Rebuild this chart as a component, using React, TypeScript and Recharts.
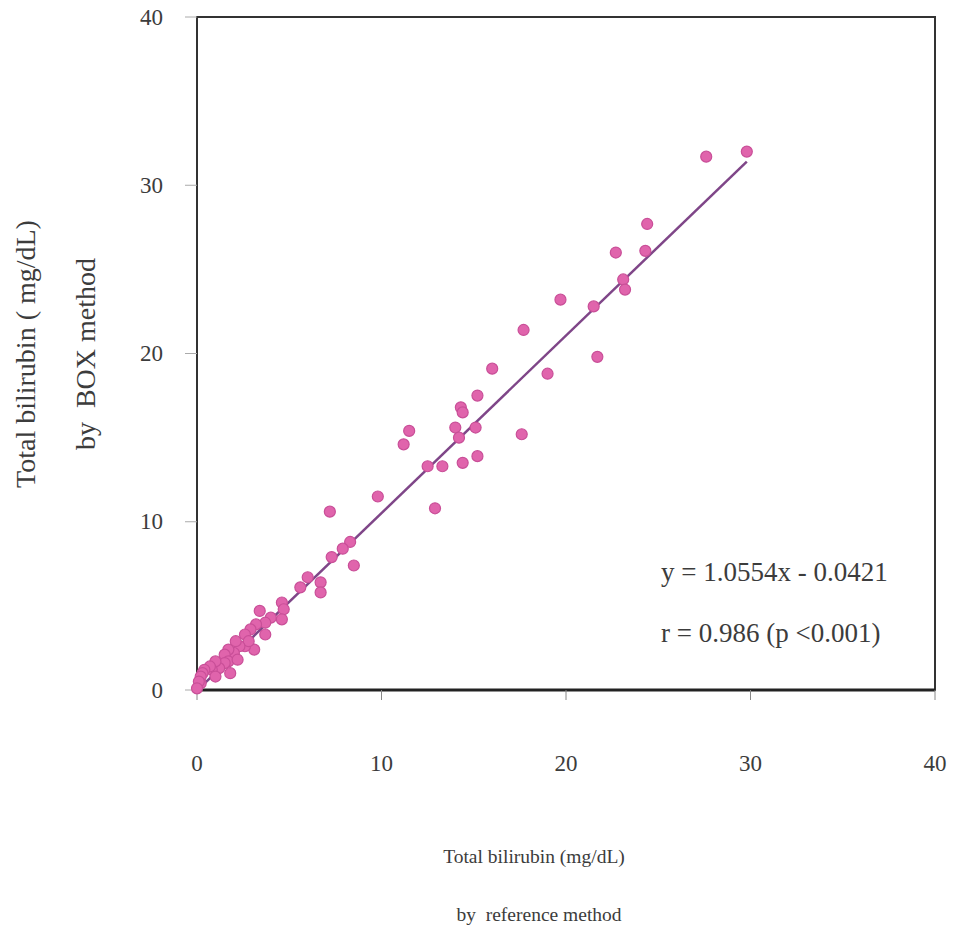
import { ScatterChart, Scatter, XAxis, YAxis, ReferenceLine, ReferenceArea } from 'recharts'

// total bilirubin (mg/dL), reference method vs BOX method
const referenceMethod = [
  29.8, 27.6, 24.4, 24.3, 22.7, 23.1, 23.2, 19.7, 21.5, 17.7, 21.7, 19.0, 17.6, 16.0, 15.2, 14.3, 14.4, 14.0, 15.1, 14.2,
  11.5, 11.2, 12.5, 13.3, 14.4, 15.2, 9.8, 7.2, 12.9, 8.3, 7.9, 7.3, 8.5, 6.0, 6.7, 6.7, 5.6,
  4.6, 4.7, 4.6, 3.4, 4.0, 3.7, 3.2, 2.9, 3.7, 2.6, 3.1, 2.6, 2.8, 2.3, 2.1, 2.0, 1.7, 1.5, 1.7, 1.5, 1.2, 1.0,
  0.8, 0.7, 0.4, 0.3, 1.0, 1.8, 0.2, 0.2, 0.1, 0.0, 2.2,
]
const boxMethod = [
  32.0, 31.7, 27.7, 26.1, 26.0, 24.4, 23.8, 23.2, 22.8, 21.4, 19.8, 18.8, 15.2, 19.1, 17.5, 16.8, 16.5, 15.6, 15.6, 15.0,
  15.4, 14.6, 13.3, 13.3, 13.5, 13.9, 11.5, 10.6, 10.8, 8.8, 8.4, 7.9, 7.4, 6.7, 6.4, 5.8, 6.1,
  5.2, 4.8, 4.2, 4.7, 4.3, 4.0, 3.9, 3.6, 3.3, 3.3, 2.4, 2.6, 2.9, 2.6, 2.9, 2.2, 2.4, 2.1, 1.7, 1.6, 1.3, 1.7,
  1.2, 1.4, 1.2, 1.0, 0.8, 1.0, 0.8, 0.4, 0.5, 0.1, 1.8,
]
const axisTicks = [0, 10, 20, 30, 40]
const slope = 1.0554
const intercept = -0.0421
const equationText = 'y = 1.0554x - 0.0421'
const corrText = 'r = 0.986 (p <0.001)'

const points = referenceMethod.map((x, i) => ({ x, y: boxMethod[i] }))
const xMax = Math.max(...referenceMethod)

const font = '"Liberation Serif", "Times New Roman", serif'
const textColor = '#3c3c3c'

const Dot = (props: any) => (
  <circle cx={props.cx} cy={props.cy} r={5.5} fill="#e064ac" stroke="#c94f98" strokeWidth={1.2} />
)

const YTick = ({ x, y, payload }: any) => (
  <text x={x} y={y} textAnchor="end" dominantBaseline="central" fontFamily={font} fontSize={23} fill={textColor}>
    {payload.value}
  </text>
)

const XTick = ({ x, y, payload }: any) => (
  <text x={x} y={y} textAnchor="middle" dominantBaseline="central" fontFamily={font} fontSize={23} fill={textColor}>
    {payload.value}
  </text>
)

const note = (top: number): React.CSSProperties => ({
  position: 'absolute',
  left: 661,
  top,
  transform: 'translateY(-50%)',
  fontFamily: font,
  fontSize: 27,
  color: textColor,
  whiteSpace: 'nowrap',
})

const axisTitle = (left: number, top: number, size: number, rotate: boolean): React.CSSProperties => ({
  position: 'absolute',
  left,
  top,
  transform: 'translate(-50%, -50%)' + (rotate ? ' rotate(-90deg)' : ''),
  fontFamily: font,
  fontSize: size,
  color: textColor,
  whiteSpace: 'nowrap',
})

export default function App() {
  return (
    <div style={{ position: 'absolute', left: 0, top: 0, width: 953, height: 935, background: '#fff' }}>
      <ScatterChart width={953} height={935} margin={{ top: 17, right: 18, bottom: 0, left: 0 }}>
        <XAxis
          type="number"
          dataKey="x"
          domain={[0, 40]}
          ticks={axisTicks}
          tickSize={10}
          tickMargin={63}
          height={245}
          axisLine={{ stroke: '#222', strokeWidth: 3 }}
          tickLine={{ stroke: '#888' }}
          tick={<XTick />}
        />
        <YAxis
          type="number"
          dataKey="y"
          domain={[0, 40]}
          ticks={axisTicks}
          tickSize={12}
          tickMargin={22}
          width={197}
          axisLine={{ stroke: '#333', strokeWidth: 2 }}
          tickLine={{ stroke: '#aaa' }}
          tick={<YTick />}
        />
        <ReferenceArea x1={0} x2={40} y1={0} y2={40} fill="none" stroke="#333" strokeWidth={2} />
        <Scatter data={points} shape={<Dot />} isAnimationActive={false} />
        <ReferenceLine
          segment={[
            { x: 0, y: intercept },
            { x: xMax, y: slope * xMax + intercept },
          ]}
          stroke="#7f4688"
          strokeWidth={2.5}
          ifOverflow="visible"
        />
      </ScatterChart>

      <div style={note(572)}>{equationText}</div>
      <div style={note(633)}>{corrText}</div>

      <div style={axisTitle(534, 857, 19.5, false)}>Total bilirubin (mg/dL)</div>
      <div style={axisTitle(539, 915, 19.5, false)}>by&nbsp; reference method</div>

      <div style={axisTitle(26, 354, 28, true)}>Total bilirubin ( mg/dL)</div>
      <div style={axisTitle(86, 354, 28, true)}>by&nbsp; BOX method</div>
    </div>
  )
}
